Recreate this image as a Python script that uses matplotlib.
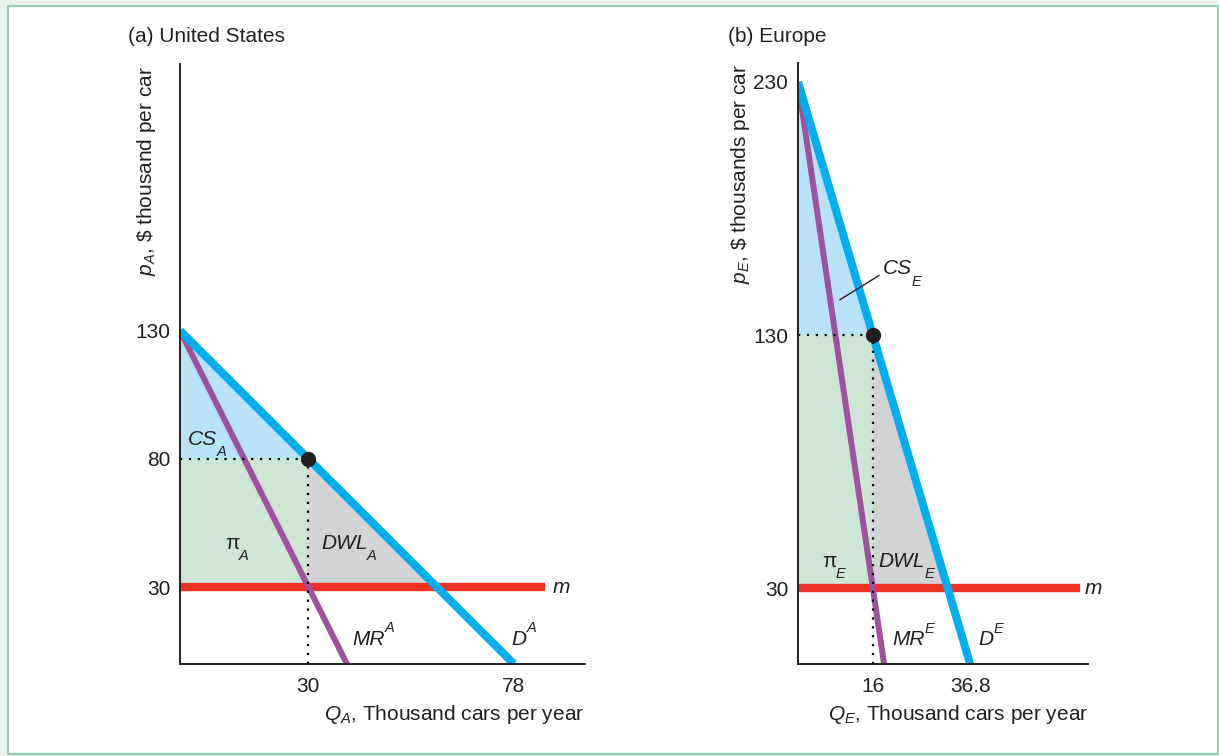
import matplotlib
matplotlib.use("Agg")
import matplotlib.pyplot as plt
from matplotlib.patches import Rectangle

plt.rcParams['font.family'] = ['Liberation Sans', 'DejaVu Sans']
plt.rcParams['mathtext.fontset'] = 'custom'
plt.rcParams['mathtext.rm'] = 'Liberation Sans'
plt.rcParams['mathtext.it'] = 'Liberation Sans:italic'

# United States
us_choke = 130      # demand intercept, p
us_qmax = 78        # demand hits zero
us_q = 30           # monopoly quantity
us_p = 80           # monopoly price
us_mc = 30          # marginal cost m
us_yticks = [30, 80, 130]
us_xticks = [30, 78]

# Europe
eu_choke = 230
eu_qmax = 36.8
eu_q = 16
eu_p = 130
eu_mc = 30
eu_yticks = [30, 130, 230]
eu_xticks = [16, 36.8]

BLUE = '#00aeef'
PURPLE = '#9e519f'
RED = '#ee3124'
CS_COL = '#b9e2f6'
PI_COL = '#cce5d5'
DWL_COL = '#d1d3d4'
INK = '#231f20'
FS = 15
SFS = 10.5

fig = plt.figure(figsize=(12.19, 7.56), dpi=100, facecolor='#e9f3ed')
fig.patches.append(Rectangle((8 / 1219, 2 / 756), 1210 / 1219, 748 / 756,
                             transform=fig.transFigure, facecolor='white',
                             edgecolor='#93cfb1', lw=1.5, zorder=-5))

ax1 = fig.add_axes([180 / 1219, 1 - 664 / 756, 405 / 1219, 600 / 756])
ax2 = fig.add_axes([798 / 1219, 1 - 664 / 756, 290 / 1219, 601 / 756])


def panel(ax, choke, qmax, q, p, mc, xticks, yticks, xmax, ymax, mend):
    ax.set_facecolor('none')
    ax.set_zorder(2)
    slope = choke / qmax
    qc = (choke - mc) / slope   # demand meets m
    # areas
    ax.fill([0, 0, q], [choke, p, p], color=CS_COL, lw=0, zorder=1)
    ax.fill([0, q, q, 0], [mc, mc, p, p], color=PI_COL, lw=0, zorder=1)
    ax.fill([q, q, qc], [p, mc, mc], color=DWL_COL, lw=0, zorder=1)
    # curves
    ax.plot([0, qmax], [choke, 0], color=BLUE, lw=5.8, solid_capstyle='butt', zorder=4)
    ax.plot([0, qmax / 2], [choke, 0], color=PURPLE, lw=4.3, solid_capstyle='butt', zorder=3)
    ax.plot([0, mend], [mc, mc], color=RED, lw=6, solid_capstyle='butt', zorder=2)
    # monopoly point
    ax.plot([0, q], [p, p], color='black', lw=1.6, ls=(0, (1, 3)), zorder=5)
    ax.plot([q, q], [0, p], color='black', lw=1.6, ls=(0, (1, 3)), zorder=5)
    ax.plot([q], [p], 'o', color=INK, ms=10, zorder=6)

    ax.set_xlim(0, xmax)
    ax.set_ylim(0, ymax)
    ax.set_xticks(xticks)
    ax.set_xticklabels([('%g' % v) for v in xticks])
    ax.set_yticks(yticks)
    ax.tick_params(length=0, labelsize=FS, colors=INK)
    ax.tick_params(axis='y', pad=7)
    ax.tick_params(axis='x', pad=9)
    for s in ['top', 'right']:
        ax.spines[s].set_visible(False)
    for s in ['left', 'bottom']:
        ax.spines[s].set_linewidth(1.4)
        ax.spines[s].set_color(INK)
        ax.spines[s].set_zorder(7)


def label(ax, x, y, main, sub=None, sup=None, upright=False):
    t = ax.text(x, y, main, fontsize=FS, color=INK, va='baseline',
                style='normal' if upright else 'italic', zorder=8)
    if sub:
        ax.annotate(sub, xy=(1, 0), xycoords=t, xytext=(-0.5, -5.5),
                    textcoords='offset points', fontsize=SFS, style='italic',
                    color=INK, va='baseline', zorder=8)
    if sup:
        ax.annotate(sup, xy=(1, 0), xycoords=t, xytext=(0, 12),
                    textcoords='offset points', fontsize=SFS, style='italic',
                    color=INK, va='baseline', zorder=8)


panel(ax1, us_choke, us_qmax, us_q, us_p, us_mc, us_xticks, us_yticks, 94.6, 234, 85.3)
panel(ax2, eu_choke, eu_qmax, eu_q, eu_p, eu_mc, eu_xticks, eu_yticks, 62, 237.5, 60.3)

# US labels
label(ax1, 1.9, 85.5, 'CS', sub='A')
label(ax1, 10.5, 45, 'π', sub='A', upright=True)
label(ax1, 33.0, 45, 'DWL', sub='A')
label(ax1, 87.1, 27.5, 'm')
label(ax1, 40.2, 7.6, 'MR', sup='A')
label(ax1, 77.4, 7.6, 'D', sup='A')

# Europe labels
label(ax2, 18.2, 154, 'CS', sub='E')
ax2.plot([9.0, 17.3], [144, 153.5], color=INK, lw=1, zorder=8)
label(ax2, 5.1, 38.5, 'π', sub='E', upright=True)
label(ax2, 17.2, 38.5, 'DWL', sub='E')
label(ax2, 61.2, 27.5, 'm')
label(ax2, 20.2, 7.4, 'MR', sup='E')
label(ax2, 38.6, 7.4, 'D', sup='E')

# axis titles
ft = dict(fontsize=FS, color=INK)
fig.text(128 / 1219, 1 - 42 / 756, '(a) United States', ha='left', va='baseline', **ft)
fig.text(728 / 1219, 1 - 42 / 756, '(b) Europe', ha='left', va='baseline', **ft)
fig.text(147 / 1219, 1 - 66 / 756, r'$p_A$, \$ thousand per car', rotation=90,
         ha='center', va='top', **ft)
fig.text(740 / 1219, 1 - 64 / 756, r'$p_E$, \$ thousands per car', rotation=90,
         ha='center', va='top', **ft)
fig.text(584 / 1219, 1 - 720 / 756, r'$Q_A$, Thousand cars per year', ha='right',
         va='baseline', **ft)
fig.text(1088 / 1219, 1 - 720 / 756, r'$Q_E$, Thousand cars per year', ha='right',
         va='baseline', **ft)

fig.savefig('out.png', dpi=100, facecolor=fig.get_facecolor())
